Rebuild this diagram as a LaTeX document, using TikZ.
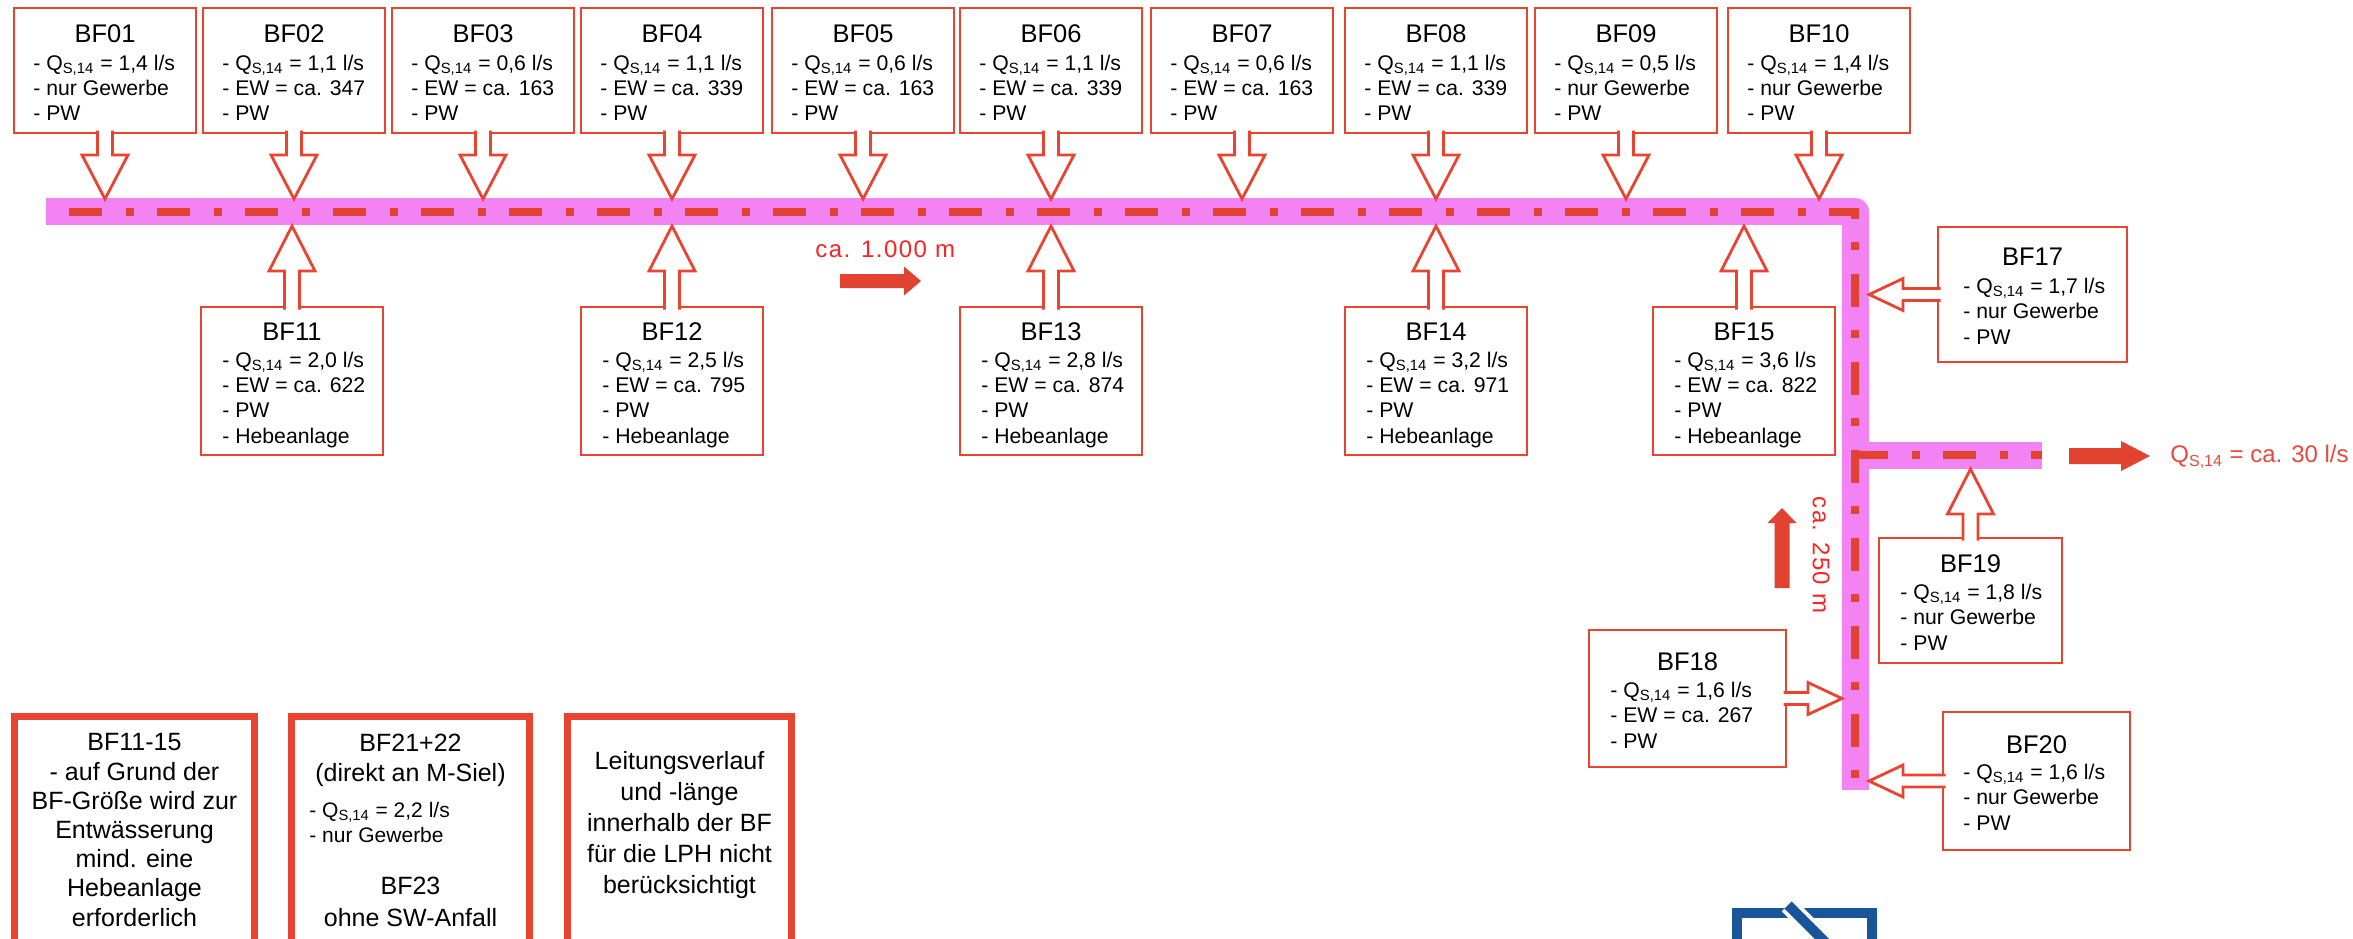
\documentclass[tikz,border=0pt]{standalone}
\usepackage{fontspec}
\setmainfont{Liberation Sans}
\definecolor{boxred}{RGB}{232,68,48}
\definecolor{dashred}{RGB}{226,66,48}
\definecolor{bandpink}{RGB}{243,131,243}
\definecolor{txtred}{RGB}{250,35,35}
\definecolor{outred}{RGB}{232,72,62}
\definecolor{logoblue}{RGB}{25,85,155}
\tikzset{
  box/.style={draw=boxred, line width=1.4pt, fill=white, rectangle, inner sep=0pt, outer sep=0pt, anchor=north west},
  notebox/.style={draw=boxred, line width=3.5pt, fill=white, rectangle, inner sep=0pt, outer sep=0pt, anchor=north west},
  ttl/.style={font=\fontsize{12.75pt}{15pt}\selectfont, inner sep=0pt, anchor=base},
  bodytop/.style={font=\fontsize{10.6pt}{12.5pt}\selectfont, align=left, inner sep=0pt, anchor=base west},
  bodybot/.style={font=\fontsize{10.6pt}{12.65pt}\selectfont, align=left, inner sep=0pt, anchor=base west},
  notetxt/.style={font=\fontsize{12.5pt}{14.6pt}\selectfont, align=center, inner sep=0pt, anchor=base},
  blk/.style={draw=boxred, fill=white, line width=1.4pt, line join=miter},
  band/.style={draw=bandpink, line width=13.5pt, line join=round},
  dashline/.style={draw=dashred, line width=4pt, dash pattern=on 16.5pt off 11.75pt on 4pt off 11.75pt},
  fatarrow/.style={fill=dashred, draw=none},
  lentxt/.style={font=\fontsize{12pt}{14pt}\selectfont, text=txtred, inner sep=0pt},
}
\newcommand{\Qs}{Q\textsubscript{S,14}}
% top box: id, left x, title, body (3 lines); base anchor = last line
\newcommand{\topbox}[4]{%
  \node[box, minimum width=91pt, minimum height=62.5pt] (b#1) at (#2,8) {};
  \node[ttl] (b#1t) at ([shift={(0,34)}]b#1.north) {#3};
  \node[bodytop] (b#1x) at ([shift={(19,112)}]b#1.north west) {#4};
}
\newcommand{\botbox}[4]{%
  \node[box, minimum width=91pt, minimum height=74pt] (b#1) at (#2,307) {};
  \node[ttl] (b#1t) at ([shift={(0,33)}]b#1.north) {#3};
  \node[bodybot] (b#1x) at ([shift={(21,136)}]b#1.north west) {#4};
}
\newcommand{\blkdown}[2]{\path[blk] ([shift={(-7.5,-2.5)}]#1.south) -- ([shift={(-7.5,-44)}]#2) -- ([shift={(-23,-44)}]#2) -- (#2) -- ([shift={(23,-44)}]#2) -- ([shift={(7.5,-44)}]#2) -- ([shift={(7.5,-2.5)}]#1.south);}
\newcommand{\blkup}[2]{\path[blk] ([shift={(-7.5,2.5)}]#1.north) -- ([shift={(-7.5,45)}]#2) -- ([shift={(-23,45)}]#2) -- (#2) -- ([shift={(23,45)}]#2) -- ([shift={(7.5,45)}]#2) -- ([shift={(7.5,2.5)}]#1.north);}
\newcommand{\blkleft}[2]{\path[blk] ([shift={(2.5,-6)}]#1.west) -- ([shift={(34,-6)}]#2) -- ([shift={(34,-16)}]#2) -- (#2) -- ([shift={(34,16)}]#2) -- ([shift={(34,6)}]#2) -- ([shift={(2.5,6)}]#1.west);}
\newcommand{\blkright}[2]{\path[blk] ([shift={(-2.5,-6)}]#1.east) -- ([shift={(-34,-6)}]#2) -- ([shift={(-34,-16)}]#2) -- (#2) -- ([shift={(-34,16)}]#2) -- ([shift={(-34,6)}]#2) -- ([shift={(-2.5,6)}]#1.east);}
\newcommand{\fatarr}[7]{\fill[fatarrow, shift={(#1,#2)}, rotate=#3] (0,-#5) -- (#4-#7,-#5) -- (#4-#7,-#6) -- (#4,0) -- (#4-#7,#6) -- (#4-#7,#5) -- (0,#5) -- cycle;}
\begin{document}
\begin{tikzpicture}[x=0.5pt,y=-0.5pt]
\useasboundingbox (0,0) rectangle (2353,938);
\clip (0,0) rectangle (2353,938);
% reference coordinates
\coordinate (topband) at (0,199);
\coordinate (botband) at (0,226);
\coordinate (vleft) at (1842,0);
\coordinate (vright) at (1869,0);
\coordinate (brbot) at (0,469);
\coordinate (L0) at (46,211.5);
\coordinate (C1) at (1855,211.5);
\coordinate (V1) at (1855,790);
\coordinate (J) at (1855,455);
\coordinate (B1) at (2042,455);
% pipe band
\draw[band] (L0) -- (C1) -- (V1);
\draw[band] (J) -- (B1);
\draw[dashline, dash phase=32.5pt] (L0) -- (C1) -- (V1);
\draw[dashline] (J) -- (B1);
% top boxes
\topbox{01}{14}{BF01}{- \Qs{} = 1,4 l/s\\- nur Gewerbe\\- PW}
\topbox{02}{203}{BF02}{- \Qs{} = 1,1 l/s\\- EW = ca. 347\\- PW}
\topbox{03}{392}{BF03}{- \Qs{} = 0,6 l/s\\- EW = ca. 163\\- PW}
\topbox{04}{581}{BF04}{- \Qs{} = 1,1 l/s\\- EW = ca. 339\\- PW}
\topbox{05}{772}{BF05}{- \Qs{} = 0,6 l/s\\- EW = ca. 163\\- PW}
\topbox{06}{960}{BF06}{- \Qs{} = 1,1 l/s\\- EW = ca. 339\\- PW}
\topbox{07}{1151}{BF07}{- \Qs{} = 0,6 l/s\\- EW = ca. 163\\- PW}
\topbox{08}{1345}{BF08}{- \Qs{} = 1,1 l/s\\- EW = ca. 339\\- PW}
\topbox{09}{1535}{BF09}{- \Qs{} = 0,5 l/s\\- nur Gewerbe\\- PW}
\topbox{10}{1728}{BF10}{- \Qs{} = 1,4 l/s\\- nur Gewerbe\\- PW}
% bottom boxes
\botbox{11}{201}{BF11}{- \Qs{} = 2,0 l/s\\- EW = ca. 622\\- PW\\- Hebeanlage}
\botbox{12}{581}{BF12}{- \Qs{} = 2,5 l/s\\- EW = ca. 795\\- PW\\- Hebeanlage}
\botbox{13}{960}{BF13}{- \Qs{} = 2,8 l/s\\- EW = ca. 874\\- PW\\- Hebeanlage}
\botbox{14}{1345}{BF14}{- \Qs{} = 3,2 l/s\\- EW = ca. 971\\- PW\\- Hebeanlage}
\botbox{15}{1653}{BF15}{- \Qs{} = 3,6 l/s\\- EW = ca. 822\\- PW\\- Hebeanlage}
% right boxes
\node[box, minimum width=94.5pt, minimum height=67.5pt] (b17) at (1938,227) {};
\node[ttl] (b17t) at ([shift={(0,38)}]b17.north) {BF17};
\node[bodybot] (b17x) at ([shift={(25,117)}]b17.north west) {- \Qs{} = 1,7 l/s\\- nur Gewerbe\\- PW};
\node[box, minimum width=91.5pt, minimum height=62.5pt] (b19) at (1879,538) {};
\node[ttl] (b19t) at ([shift={(0,34)}]b19.north) {BF19};
\node[bodybot] (b19x) at ([shift={(21,112)}]b19.north west) {- \Qs{} = 1,8 l/s\\- nur Gewerbe\\- PW};
\node[box, minimum width=98.5pt, minimum height=68.5pt] (b18) at (1589,630) {};
\node[ttl] (b18t) at ([shift={(0,40)}]b18.north) {BF18};
\node[bodybot] (b18x) at ([shift={(21,118)}]b18.north west) {- \Qs{} = 1,6 l/s\\- EW = ca. 267\\- PW};
\node[box, minimum width=93.5pt, minimum height=69pt] (b20) at (1943,712) {};
\node[ttl] (b20t) at ([shift={(0,41)}]b20.north) {BF20};
\node[bodybot] (b20x) at ([shift={(20,118)}]b20.north west) {- \Qs{} = 1,6 l/s\\- nur Gewerbe\\- PW};
% block arrows
\foreach \i in {01,02,03,04,05,06,07,08,09,10} {\coordinate (t\i) at (b\i.south |- topband); \blkdown{b\i}{t\i}}
\foreach \i in {11,12,13,14,15} {\coordinate (t\i) at (b\i.north |- botband); \blkup{b\i}{t\i}}
\coordinate (t17) at (b17.west -| vright); \blkleft{b17}{t17}
\coordinate (t20) at (b20.west -| vright); \blkleft{b20}{t20}
\coordinate (t18) at (b18.east -| vleft); \blkright{b18}{t18}
\coordinate (t19) at (b19.north |- brbot); \blkup{b19}{t19}
% flow labels
\node[lentxt, anchor=base west] (len1) at (815,257) {\addfontfeature{LetterSpace=6}ca. 1.000 m};
\fatarr{840}{281}{0}{81}{7}{14.5}{17}
\node[lentxt, rotate=-90] (len2) at (1821,555) {\addfontfeature{LetterSpace=6}ca. 250 m};
\fatarr{1782}{588}{90}{80}{7.5}{14.5}{15}
\fatarr{2069}{456}{0}{81}{8}{15}{29}
\node[font=\fontsize{12pt}{14pt}\selectfont, text=outred, inner sep=0pt, anchor=west] (qout) at (2170,457) {\Qs{} = ca. 30 l/s};
% notes
\node[notebox, minimum width=120pt, minimum height=130pt] (n1) at (14.5,716.5) {};
\node[notetxt] (n1x) at (134.5,926) {BF11-15\\- auf Grund der\\BF-Größe wird zur\\Entwässerung\\mind. eine\\Hebeanlage\\erforderlich};
\node[notebox, minimum width=119pt, minimum height=130pt] (n2) at (291.5,716.5) {};
\node[notetxt, font=\fontsize{12.5pt}{15pt}\selectfont] (n2a) at (410.5,781) {BF21+22\\(direkt an M-Siel)};
\node[bodytop, font=\fontsize{10.5pt}{12.5pt}\selectfont] (n2b) at (309,842) {- \Qs{} = 2,2 l/s\\- nur Gewerbe};
\node[notetxt, font=\fontsize{12.5pt}{16pt}\selectfont] (n2c) at (410.5,926) {BF23\\ohne SW-Anfall};
\node[notebox, minimum width=112pt, minimum height=130pt] (n3) at (567.5,716.5) {};
\node[notetxt, font=\fontsize{12.5pt}{15.5pt}\selectfont] (n3x) at (679.5,893) {Leitungsverlauf\\und -länge\\innerhalb der BF\\für die LPH nicht\\berücksichtigt};
% logo
\draw[logoblue, line width=5pt] (1737,913) rectangle (1872,990);
\draw[white, line width=9pt] (1788,905) -- (1850,967);
\draw[logoblue, line width=5pt] (1788,905) -- (1850,967);
\end{tikzpicture}
\end{document}
